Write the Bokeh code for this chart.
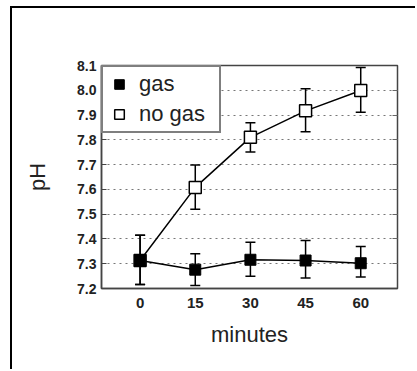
from bokeh.plotting import figure
from bokeh.models import (Whisker, ColumnDataSource, FixedTicker, Legend, LegendItem,
                          LinearAxis, NumeralTickFormatter, Range1d)
from bokeh.embed import file_html
from bokeh.resources import INLINE

# ---- data ----
minutes = [0, 15, 30, 45, 60]
gas_ph = [7.313, 7.276, 7.316, 7.313, 7.302]
gas_lo = [7.216, 7.212, 7.249, 7.242, 7.246]
gas_hi = [7.415, 7.340, 7.387, 7.394, 7.370]
nogas_ph = [7.313, 7.608, 7.810, 7.917, 7.999]
nogas_lo = [7.216, 7.520, 7.751, 7.833, 7.911]
nogas_hi = [7.415, 7.698, 7.869, 8.006, 8.092]
y_ticks = [7.2, 7.3, 7.4, 7.5, 7.6, 7.7, 7.8, 7.9, 8.0, 8.1]
x_ticks = [0, 15, 30, 45, 60]
series_labels = ["gas", "no gas"]

W, H = 405, 363
p = figure(width=W, height=H, output_backend="svg", toolbar_location=None,
           x_range=Range1d(-10.5, 70), y_range=Range1d(7.2, 8.1),
           min_border_left=89, min_border_top=57, min_border_right=20, min_border_bottom=83)
p.margin = (6, 0, 0, 10)
p.styles = {"border-left": "2px solid black", "border-top": "2px solid black"}
p.background_fill_color = "white"
p.border_fill_color = "white"
p.outline_line_color = "#444444"
p.outline_line_width = 1.5

src_g = ColumnDataSource(dict(x=minutes, y=gas_ph, lo=gas_lo, hi=gas_hi))
src_n = ColumnDataSource(dict(x=minutes, y=nogas_ph, lo=nogas_lo, hi=nogas_hi))

# grid
p.xgrid.grid_line_color = None
p.ygrid.ticker = FixedTicker(ticks=y_ticks[1:-1])
p.ygrid.grid_line_color = "#777777"
p.ygrid.grid_line_dash = "2 4"
p.ygrid.grid_line_width = 1.2

# axes
font = "Liberation Sans"
p.xaxis.ticker = FixedTicker(ticks=x_ticks)
p.yaxis.ticker = FixedTicker(ticks=y_ticks)
p.yaxis.formatter = NumeralTickFormatter(format="0.0")
for ax in (p.xaxis[0], p.yaxis[0]):
    ax.major_label_text_font = font
    ax.major_label_text_font_style = "bold"
    ax.major_label_text_font_size = "14px"
    ax.major_label_text_color = "#222222"
    ax.axis_label_text_font = font
    ax.axis_label_text_font_style = "normal"
    ax.axis_label_text_font_size = "22px"
    ax.axis_label_text_color = "#222222"
    ax.minor_tick_line_color = None
    ax.axis_line_color = "#444444"
    ax.axis_line_width = 1.5
p.xaxis.axis_label = "minutes"
p.yaxis.axis_label = "pH"
p.xaxis.major_label_text_font_size = "15px"
p.xaxis.major_tick_line_color = None
p.xaxis.major_tick_out = 0
p.xaxis.major_label_standoff = 9
p.xaxis.axis_label_standoff = 11
p.yaxis.major_tick_in = 5
p.yaxis.major_tick_out = 0
p.yaxis.major_label_standoff = 5
p.yaxis.axis_label_standoff = 24
p.yaxis.major_tick_line_color = "#444444"

ry = LinearAxis(ticker=FixedTicker(ticks=y_ticks[1:-1]), major_label_text_alpha=0,
                major_label_text_font_size="1px", major_label_standoff=0,
                major_tick_in=5, major_tick_out=0,
                minor_tick_line_color=None, axis_line_color=None,
                major_tick_line_color="#666666")
p.add_layout(ry, "right")

# lines and error bars
p.line("x", "y", source=src_n, line_color="black", line_width=1.5)
p.line("x", "y", source=src_g, line_color="black", line_width=1.5)
wn = Whisker(source=src_n, base="x", lower="lo", upper="hi", line_color="black", line_width=1.5)
wn.upper_head.size = 10; wn.lower_head.size = 10
wn.upper_head.line_width = 1.5; wn.lower_head.line_width = 1.5
wg = Whisker(source=src_g, base="x", lower="lo", upper="hi", line_color="black", line_width=1.5)
wg.upper_head.size = 10; wg.lower_head.size = 10
wg.upper_head.line_width = 1.5; wg.lower_head.line_width = 1.5
p.add_layout(wn)
p.add_layout(wg)

rn = p.scatter("x", "y", source=src_n, marker="square", size=12, fill_color="white",
               line_color="black", line_width=1.5)
rg = p.scatter("x", "y", source=src_g, marker="square", size=11, fill_color="black",
               line_color="black", line_width=1)

legend = Legend(items=[LegendItem(label=series_labels[0], renderers=[rg]),
                       LegendItem(label=series_labels[1], renderers=[rn])],
                location="top_left", margin=0, padding=4, spacing=4,
                glyph_width=24, glyph_height=26, label_standoff=8, label_width=76,
                label_text_font=font, label_text_font_size="22px", label_text_color="#222222",
                label_height=26, border_line_color="black", border_line_width=2,
                background_fill_color="white", background_fill_alpha=1)
p.add_layout(legend, "center")

open("out.html", "w").write(file_html(p, INLINE))
